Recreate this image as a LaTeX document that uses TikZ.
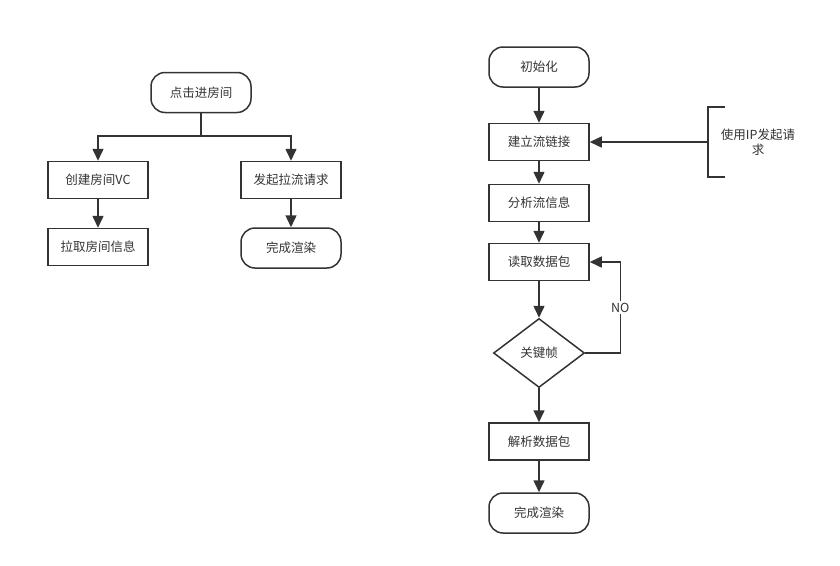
\documentclass[tikz,border=0pt]{standalone}
\usepackage{fontspec}
\setmainfont{Noto Sans CJK SC}
\usepackage{tikz}
\usepackage{xcolor}
\usetikzlibrary{arrows.meta, positioning, shapes.geometric, calc}
\definecolor{linedark}{HTML}{333333}

\begin{document}
\begin{tikzpicture}[
  x=1pt, y=-1pt,
  every node/.style={font=\fontsize{12.5}{15}\selectfont, text=linedark},
  procbox/.style={draw=linedark, line width=1.5pt, minimum width=100pt, minimum height=37pt, align=center, inner sep=0pt},
  termbox/.style={procbox, rounded corners=14pt, minimum height=40pt},
  decide/.style={draw=linedark, line width=1.5pt, diamond, minimum width=91pt, minimum height=69pt, inner sep=0pt},
  flow/.style={draw=linedark, line width=1.5pt, -{Triangle[length=12pt, width=11pt]}},
  link/.style={draw=linedark, line width=1.5pt},
]
\useasboundingbox (0,0) rectangle (840,565);

% 左侧: 进房间流程
\node[termbox] (enter) at (201,92.5) {点击进房间};
\coordinate (split) at (201,136);
\node[procbox] (createvc) at (98,180) {创建房间VC};
\node[procbox] (pullinfo) at (98,247) {拉取房间信息};
\node[procbox] (pullreq) at (291,180) {发起拉流请求};
\node[termbox] (renderA) at (291,248) {完成渲染};

\draw[link] (enter) -- (split);
\draw[flow] (split) -| (createvc);
\draw[flow] (split) -| (pullreq);
\draw[flow] (createvc) -- (pullinfo);
\draw[flow] (pullreq) -- (renderA);

% 右侧: 拉流流程
\node[termbox] (init) at (539,67) {初始化};
\node[procbox] (connect) at (539,142) {建立流链接};
\node[procbox] (parseinfo) at (539,203) {分析流信息};
\node[procbox] (readpkt) at (539,262) {读取数据包};
\node[decide] (keyframe) at (539,353) {关键帧};
\node[procbox] (decode) at (539,441.5) {解析数据包};
\node[termbox] (renderB) at (539,513) {完成渲染};

\draw[flow] (init) -- (connect);
\draw[flow] (connect) -- (parseinfo);
\draw[flow] (parseinfo) -- (readpkt);
\draw[flow] (readpkt) -- (keyframe);
\draw[flow] (keyframe) -- (decode);
\draw[flow] (decode) -- (renderB);
\draw[flow] (keyframe.east) -- ++(35,0) |- (readpkt.east)
  node[pos=0.25, fill=white, inner sep=2pt] (nolabel) {NO};

% 注释
\node[minimum width=100pt, minimum height=70pt, align=center, inner sep=0pt] (ipnote) at (758,142) {使用IP发起请\\求};
\draw[link] ([xshift=17pt]ipnote.north west) -- (ipnote.north west) -- (ipnote.south west) -- ([xshift=17pt]ipnote.south west);
\draw[flow] (ipnote.west) -- (connect.east);

\end{tikzpicture}
\end{document}
